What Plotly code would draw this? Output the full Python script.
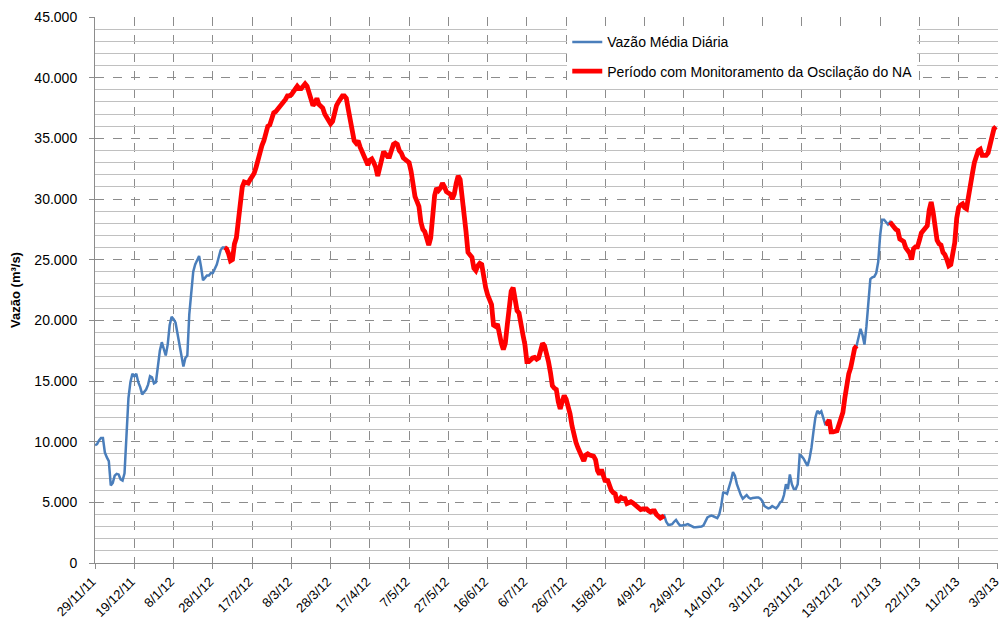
import pandas as pd
import plotly.graph_objects as go

# Daily mean flow (m³/s), one value per day starting at 29/11/2011
start_date = "2011-11-29"
vazao = [
    9700, 9800, 10100, 10300, 10300, 9100, 8700, 8400, 6400, 6600,
    7200, 7350, 7300, 6900, 6800, 7400, 10500, 13600, 14900, 15600,
    15400, 15600, 14900, 14500, 13900, 14100, 14300, 14700, 15400, 15300,
    14800, 14900, 16300, 17500, 18200, 17600, 17100, 18000, 19600, 20300,
    20100, 19800, 18900, 17800, 17000, 16200, 16900, 17100, 20500, 22600,
    24000, 24600, 25000, 25300, 24400, 23300, 23500, 23700, 23700, 23900,
    23900, 24200, 24600, 25200, 25800, 26000, 26000, 25900, 25500, 24900,
    25000, 26300, 26800, 28000, 29500, 31000, 31400, 31300, 31300, 31600,
    31800, 32100, 32600, 33300, 34000, 34400, 34800, 35600, 36000, 36100,
    36800, 37100, 37200, 37400, 37600, 37800, 37900, 38200, 38500, 38500,
    38600, 38900, 39200, 39300, 39100, 39100, 39300, 39500, 39300, 38800,
    38300, 37700, 37900, 38300, 37800, 37600, 37500, 37000, 36700, 36500,
    36200, 36400, 37200, 37700, 38000, 38300, 38500, 38500, 38300, 37400,
    36500, 35600, 34800, 34600, 34800, 34300, 33900, 33600, 33100, 32800,
    33200, 33300, 33000, 32600, 31900, 32500, 33300, 33900, 33700, 33500,
    33500, 34000, 34500, 34600, 34500, 34000, 33800, 33400, 33300, 33100,
    33000, 32300, 31200, 30200, 29800, 29400, 28100, 27500, 27300, 26800,
    26200, 26800, 28800, 30300, 30900, 30700, 30900, 31300, 31000, 30600,
    30500, 30400, 30000, 30400, 31300, 31900, 31600, 30300, 29300, 27300,
    25600, 25300, 25200, 24300, 24100, 24500, 24700, 24600, 23400, 22700,
    22100, 21700, 21300, 19600, 19500, 19700, 18800, 18100, 17600, 18100,
    19600, 21200, 22400, 22700, 21600, 20800, 20600, 19500, 18800, 18000,
    16600, 16600, 16800, 16900, 16950, 16800, 16900, 17600, 18100, 17900,
    17400, 16600, 15700, 14600, 14400, 14300, 13300, 12700, 13300, 13800,
    13500, 12900, 12300, 11300, 10400, 9950, 9500, 9100, 8600, 8400,
    8900, 9000, 8900, 8850, 8800, 8500, 7600, 7300, 7700, 7200,
    6700, 6900, 6400, 6000, 5800, 5700, 5000, 5300, 5400, 5300,
    5300, 4900, 5000, 5050, 4950, 4800, 4700, 4500, 4400, 4450,
    4450, 4450, 4300, 4200, 4300, 4300, 4000, 3900, 3700, 3800,
    3900, 3400, 3150, 3150, 3200, 3400, 3550, 3300, 3100, 3100,
    3100, 3150, 3200, 3100, 3000, 2950, 2950, 2950, 2950, 3000,
    3100, 3500, 3750, 3850, 3900, 3850, 3750, 3700, 4000, 4700,
    5800, 5800, 5700, 6200, 6800, 7500, 7200, 6500, 5950, 5600,
    5300, 5450, 5600, 5400, 5300, 5350, 5400, 5400, 5400, 5300,
    5100, 4700, 4600, 4500, 4550, 4700, 4600, 4500, 4700, 5000,
    5100, 5600, 6500, 6100, 7300, 6500, 6100, 6100, 6500, 8900,
    8800, 8600, 8300, 8000, 8600, 9500, 10800, 12000, 12550, 12350,
    12500, 11900, 11450, 11500, 11800, 10800, 10800, 10850, 10900, 11400,
    12000, 12400, 13600, 15000, 15600, 16100, 17000, 17700, 17900, 18500,
    19300, 18800, 18000, 19500, 21800, 23400, 23550, 23600, 23900, 24800,
    27000, 28300, 28300, 28100, 27900, 28100, 27800, 27700, 27500, 27400,
    26700, 26600, 26500, 26000, 25800, 25550, 25000, 25900, 26050, 26050,
    26600, 27200, 27400, 27600, 27800, 29100, 29750, 28900, 27500, 26600,
    26300, 26200, 25600, 25400, 25000, 24500, 24600, 25500, 26400, 28400,
    29300, 29500, 29600, 29300, 29200, 30200, 31400, 32100, 33000, 33600,
    34000, 34100, 33600, 33600, 33600, 33800, 34600, 35300, 35800, 35950,
]

# Periods with monitoring of the water level oscillation (NA)
monitoring_periods = [
    ("2012-02-03", "2012-09-14"),
    ("2012-12-05", "2012-12-21"),
    ("2013-01-07", "2013-03-02"),
]

tick_labels = [
    "29/11/11", "19/12/11", "8/1/12", "28/1/12", "17/2/12", "8/3/12",
    "28/3/12", "17/4/12", "7/5/12", "27/5/12", "16/6/12", "6/7/12",
    "26/7/12", "15/8/12", "4/9/12", "24/9/12", "14/10/12", "3/11/12",
    "23/11/12", "13/12/12", "2/1/13", "22/1/13", "11/2/13", "3/3/13",
]

Y_MAX = 45000
Y_MAJOR = 5000
Y_MINOR = 1000

dates = pd.date_range(start_date, periods=len(vazao), freq="D")
in_period = pd.Series(False, index=dates)
for a, b in monitoring_periods:
    in_period[(dates >= pd.Timestamp(a)) & (dates <= pd.Timestamp(b))] = True
vazao_monit = [v if m else None for v, m in zip(vazao, in_period.values)]

tick_vals = [pd.to_datetime(t, format="%d/%m/%y") for t in tick_labels]
x_range = [tick_vals[0] - pd.Timedelta(hours=1), tick_vals[-1] + pd.Timedelta(hours=1)]
minor_vals = [v for v in range(0, Y_MAX + 1, Y_MINOR) if v % Y_MAJOR]

FONT = "Liberation Sans, Arial, sans-serif"

fig = go.Figure()
# invisible helper trace so the minor-grid overlay axis is drawn
fig.add_trace(go.Scatter(
    x=[dates[0]], y=[vazao[0]], yaxis="y2", mode="lines",
    line=dict(width=0), showlegend=False, hoverinfo="skip", opacity=0,
))
fig.add_trace(go.Scatter(
    x=dates, y=vazao, mode="lines", name="Vazão Média Diária",
    line=dict(color="#4a7ebb", width=2.5), legendgroup="a",
))
fig.add_trace(go.Scatter(
    x=dates, y=vazao_monit, mode="lines",
    name="Período com Monitoramento da Oscilação do NA",
    line=dict(color="#ff0000", width=4.8), connectgaps=False, legendgroup="b",
))

fig.update_layout(
    width=1002, height=624,
    margin=dict(l=95, r=4, t=17, b=61, autoexpand=False),
    paper_bgcolor="white", plot_bgcolor="white",
    separators=",.",
    font=dict(family=FONT, size=14, color="black"),
    showlegend=True,
    legend=dict(
        x=0.523, y=0.983, xanchor="left", yanchor="top",
        bgcolor="white", borderwidth=0, tracegroupgap=8,
        font=dict(family=FONT, size=14, color="black"),
    ),
    xaxis=dict(
        type="date",
        range=x_range,
        tickvals=tick_vals, ticktext=tick_labels, tickangle=-45,
        tickfont=dict(family=FONT, size=13),
        ticklabeloverflow="allow", ticklabelshift=-3,
        showgrid=True, gridcolor="#8c8c8c", griddash="dash", gridwidth=1,
        ticks="outside", ticklen=5, tickcolor="#8c8c8c",
        showline=True, linecolor="#8c8c8c", linewidth=1,
        zeroline=False, automargin=False,
    ),
    yaxis=dict(
        range=[0, Y_MAX], dtick=Y_MAJOR, tick0=0, tickformat=",.0f",
        tickfont=dict(family=FONT, size=14),
        ticklabelstandoff=9, ticklabeloverflow="allow",
        showgrid=True, gridcolor="#8c8c8c", griddash="dash", gridwidth=1,
        ticks="outside", ticklen=5, tickcolor="#8c8c8c",
        showline=True, linecolor="#8c8c8c", linewidth=1,
        zeroline=False, automargin=False,
        title=dict(text="<b>Vazão (m³/s)</b>", font=dict(family=FONT, size=13), standoff=10),
    ),
    yaxis2=dict(
        overlaying="y", side="left", range=[0, Y_MAX],
        tickmode="array", tickvals=minor_vals,
        showticklabels=False, ticks="",
        showgrid=True, gridcolor="#c0c0c0", gridwidth=1, griddash="solid",
        showline=False, zeroline=False, automargin=False,
    ),
)

fig.write_html(
    "out.html",
    config={"displayModeBar": False},
    post_script="document.body.style.margin='0';document.body.style.padding='0';",
)
